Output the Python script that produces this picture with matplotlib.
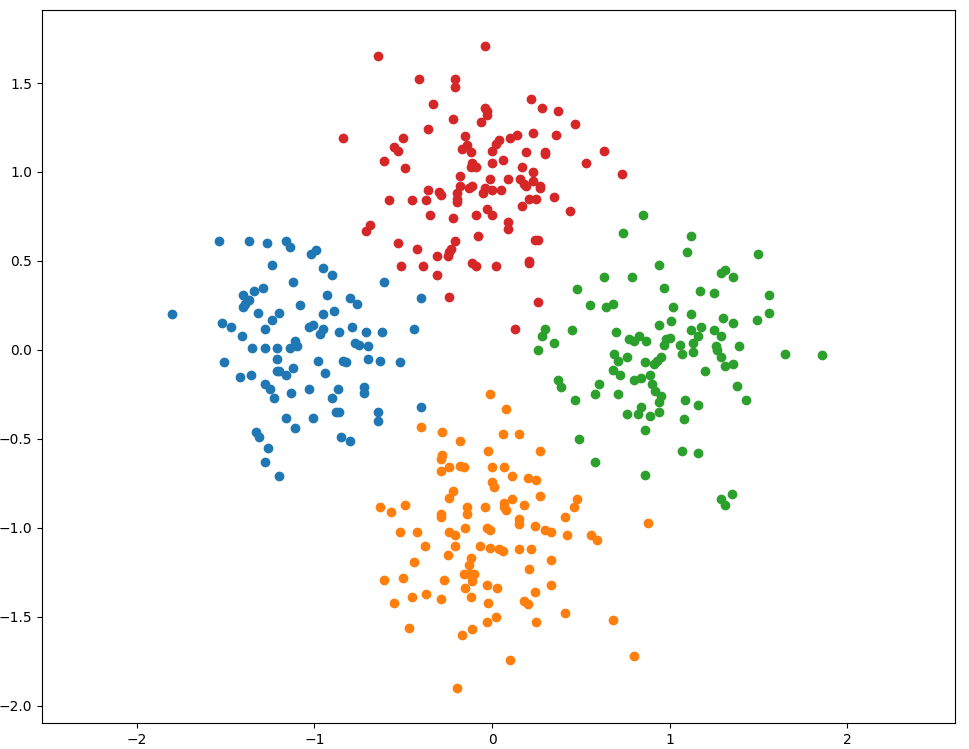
import matplotlib
matplotlib.use("Agg")
import matplotlib.pyplot as plt

blue_x = [-1.54, -1.37, -1.27, -1.16, -1.14, -1.02, -0.99, -1.24, -0.95, -0.90, -1.12, -0.61,
          -1.29, -1.34, -1.40, -1.37, -1.39, -1.40, -0.93, -0.80, -0.76, -0.40, -1.08, -1.80,
          -1.32, -1.20, -0.95, -0.89, -1.24, -1.52, -1.47, -1.28, -1.03, -1.01, -0.95, -0.97,
          -0.86, -0.79, -0.71, -0.62, -0.44, -1.41, -1.11, -0.77, -0.75, -0.70, -1.35, -1.28,
          -1.21, -1.14, -1.10,
          -1.51, -1.21, -0.98, -0.84, -0.82, -0.70, -0.63, -0.52, -1.42, -1.36, -1.21, -1.20,
          -1.12, -1.16, -0.94, -1.28, -1.25, -1.23, -1.13, -1.03, -0.87, -0.90, -0.72, -0.72,
          -0.88, -0.86, -1.16, -1.01, -0.64, -0.64, -0.40, -1.11, -1.33, -1.31, -0.85, -0.80,
          -1.26, -1.28, -1.20]
blue_y = [0.61, 0.61, 0.60, 0.61, 0.58, 0.54, 0.56, 0.48, 0.46, 0.42, 0.38, 0.38,
          0.35, 0.33, 0.31, 0.28, 0.26, 0.24, 0.31, 0.29, 0.26, 0.29, 0.25, 0.20,
          0.21, 0.21, 0.20, 0.22, 0.17, 0.15, 0.13, 0.12, 0.13, 0.14, 0.12, 0.09,
          0.10, 0.13, 0.10, 0.10, 0.12, 0.08, 0.05, 0.04, 0.03, 0.02, 0.01, 0.01,
          0.01, 0.01, 0.02,
          -0.07, -0.05, -0.06, -0.06, -0.07, -0.05, -0.06, -0.07, -0.15, -0.14, -0.12, -0.12,
          -0.10, -0.14, -0.13, -0.19, -0.22, -0.27, -0.24, -0.22, -0.22, -0.27, -0.21, -0.24,
          -0.35, -0.35, -0.38, -0.38, -0.35, -0.40, -0.32, -0.44, -0.46, -0.49, -0.49, -0.51,
          -0.55, -0.63, -0.71]

orange_x = [-0.01, 0.08, -0.40, -0.28, 0.06, 0.15, -0.18, -0.02, 0.27, -0.28, -0.29, -0.24,
            -0.18, -0.16, -0.29, 0.00, 0.07, 0.11, 0.20, 0.25, 0.00, 0.01, -0.22, -0.24,
            0.27, -0.63, -0.57, -0.49, -0.29, -0.29, -0.14, -0.14, -0.04, 0.07, 0.11, 0.07,
            0.08, 0.18, 0.48, 0.46, 0.41, 0.15, 0.15, -0.52, -0.42, -0.24, -0.21, -0.15,
            -0.03, -0.01, 0.24, 0.30, 0.33, 0.42, 0.56, 0.59,
            -0.38, -0.21, -0.07, -0.01, 0.04, 0.06, 0.15, 0.22, -0.44, -0.25, -0.12, -0.13,
            0.33, 0.21, -0.16, -0.13, -0.10, -0.11, -0.61, -0.50, -0.27, -0.15, -0.03, 0.03,
            0.33, 0.24, -0.55, -0.45, -0.37, -0.29, -0.12, -0.02, 0.18, 0.20, 0.41, 0.02,
            -0.03, 0.25, 0.68, -0.47, -0.11, -0.17, 0.10, 0.80, -0.20, 0.88]
orange_y = [-0.25, -0.33, -0.43, -0.46, -0.47, -0.47, -0.51, -0.57, -0.57, -0.59, -0.61, -0.66,
            -0.65, -0.66, -0.68, -0.66, -0.66, -0.71, -0.72, -0.73, -0.74, -0.77, -0.79, -0.83,
            -0.82, -0.88, -0.91, -0.87, -0.92, -0.94, -0.88, -0.92, -0.88, -0.86, -0.84, -0.88,
            -0.90, -0.87, -0.84, -0.88, -0.94, -0.95, -0.98, -1.02, -1.02, -1.02, -1.04, -1.00,
            -1.00, -1.01, -0.99, -1.01, -1.02, -1.04, -1.04, -1.07,
            -1.10, -1.10, -1.10, -1.11, -1.12, -1.13, -1.12, -1.12, -1.19, -1.15, -1.17, -1.21,
            -1.18, -1.23, -1.26, -1.26, -1.26, -1.30, -1.29, -1.28, -1.29, -1.34, -1.32, -1.34,
            -1.32, -1.36, -1.42, -1.39, -1.37, -1.40, -1.39, -1.42, -1.41, -1.43, -1.48, -1.50,
            -1.53, -1.53, -1.52, -1.56, -1.57, -1.60, -1.74, -1.72, -1.90, -0.97]

green_x = [0.85, 0.74, 1.12, 1.10, 1.50, 0.94, 0.63, 0.79, 1.29, 1.31, 1.36, 0.48,
           0.97, 1.17, 1.25, 1.56, 0.55, 0.64, 0.68, 1.02, 1.56, 1.12, 1.01, 0.94,
           1.30, 1.36, 1.49, 0.30, 0.28, 0.35, 0.26, 0.45, 0.70, 0.77, 0.80, 0.83,
           0.87, 1.00, 0.98, 0.97, 1.12, 1.18, 1.16, 1.13, 1.06, 1.25, 1.29, 1.26,
           1.27, 1.39, 1.65, 1.86, 0.69, 0.76, 0.95, 1.07, 1.13, 1.29,
           0.71, 0.86, 0.91, 0.93, 1.31, 1.36, 0.68, 0.72, 0.80, 0.84, 0.89, 0.90,
           1.20, 0.37, 0.39, 0.60, 0.58, 0.47, 0.71, 0.92, 0.95, 0.94, 1.38, 1.43,
           1.09, 1.16, 0.84, 0.76, 0.82, 0.89, 0.94, 1.08, 0.86, 0.49, 1.07, 1.16,
           0.58, 0.86, 1.29, 1.35, 1.31]
green_y = [0.76, 0.66, 0.64, 0.55, 0.54, 0.48, 0.41, 0.41, 0.43, 0.45, 0.41, 0.34,
           0.35, 0.33, 0.32, 0.31, 0.25, 0.24, 0.26, 0.24, 0.21, 0.20, 0.16, 0.14,
           0.18, 0.15, 0.17, 0.12, 0.08, 0.04, 0.00, 0.11, 0.10, 0.06, 0.05, 0.08,
           0.05, 0.07, 0.06, 0.03, 0.11, 0.13, 0.08, 0.04, 0.03, 0.11, 0.08, 0.02,
           0.00, 0.02, -0.02, -0.03, -0.02, -0.04, -0.04, -0.02, -0.01, -0.04,
           -0.06, -0.07, -0.08, -0.06, -0.09, -0.08, -0.11, -0.14, -0.17, -0.16, -0.14, -0.19,
           -0.12, -0.17, -0.21, -0.19, -0.25, -0.28, -0.25, -0.23, -0.26, -0.29, -0.20, -0.28,
           -0.28, -0.31, -0.32, -0.36, -0.36, -0.37, -0.35, -0.39, -0.45, -0.50, -0.57, -0.58,
           -0.63, -0.70, -0.84, -0.81, -0.87]

red_x = [-0.04, -0.64, -0.41, -0.21, -0.21, 0.22, 0.28, 0.37, -0.33, -0.04, -0.03, -0.03,
         -0.22, -0.06, 0.47, -0.36, -0.84, -0.50, -0.15, 0.02, 0.04, 0.10, 0.14, 0.23,
         0.36, -0.55, -0.53, -0.17, -0.14, -0.12, 0.00, 0.19, 0.30, 0.30, 0.63, -0.61,
         -0.49, -0.11, -0.12, -0.09, 0.00, 0.06, 0.17, 0.23, 0.53, 0.73, -0.18, -0.01,
         0.09, 0.16, 0.23, 0.18, 0.27,
         -0.36, -0.30, -0.29, -0.18, -0.13, -0.11, -0.04, 0.00, 0.05, 0.19, 0.27, -0.20,
         -0.20, -0.20, -0.05, -0.58, -0.45, -0.37, 0.21, 0.25, 0.35, 0.17, 0.44, -0.35,
         -0.22, -0.09, -0.03, 0.00, 0.09, 0.09, -0.69, -0.71, -0.08, 0.24, 0.26, -0.53,
         -0.42, -0.21, -0.23, -0.24, -0.25, -0.31, -0.51, -0.39, -0.31, -0.11, -0.09, 0.02,
         0.21, 0.21, -0.24, 0.26, 0.13]
red_y = [1.71, 1.65, 1.52, 1.52, 1.48, 1.41, 1.36, 1.34, 1.38, 1.36, 1.34, 1.32,
         1.30, 1.28, 1.27, 1.24, 1.19, 1.19, 1.20, 1.16, 1.18, 1.19, 1.21, 1.22,
         1.21, 1.14, 1.12, 1.13, 1.15, 1.11, 1.12, 1.11, 1.10, 1.11, 1.12, 1.06,
         1.02, 1.05, 1.03, 1.03, 1.05, 1.07, 1.03, 1.00, 1.05, 0.99, 0.98, 0.96,
         0.96, 0.96, 0.95, 0.93, 0.92,
         0.90, 0.89, 0.87, 0.92, 0.91, 0.92, 0.91, 0.90, 0.90, 0.92, 0.91, 0.88,
         0.85, 0.83, 0.88, 0.84, 0.84, 0.84, 0.85, 0.85, 0.86, 0.81, 0.78, 0.76,
         0.74, 0.76, 0.79, 0.76, 0.72, 0.68, 0.70, 0.67, 0.64, 0.62, 0.62, 0.60,
         0.57, 0.61, 0.57, 0.55, 0.53, 0.53, 0.47, 0.47, 0.42, 0.49, 0.47, 0.47,
         0.50, 0.49, 0.30, 0.27, 0.12]

fig = plt.figure(figsize=(9.7, 7.49), dpi=100)
ax = fig.add_axes([0.0433, 0.0347, 0.9412, 0.9519])
ax.scatter(blue_x, blue_y, color="C0")
ax.scatter(orange_x, orange_y, color="C1")
ax.scatter(green_x, green_y, color="C2")
ax.scatter(red_x, red_y, color="C3")
ax.set_xlim(-2.535, 2.608)
ax.set_ylim(-2.096, 1.91)
ax.set_xticks([-2, -1, 0, 1, 2])
ax.set_yticks([-2.0, -1.5, -1.0, -0.5, 0.0, 0.5, 1.0, 1.5])
fig.savefig("out.png", dpi=100)
